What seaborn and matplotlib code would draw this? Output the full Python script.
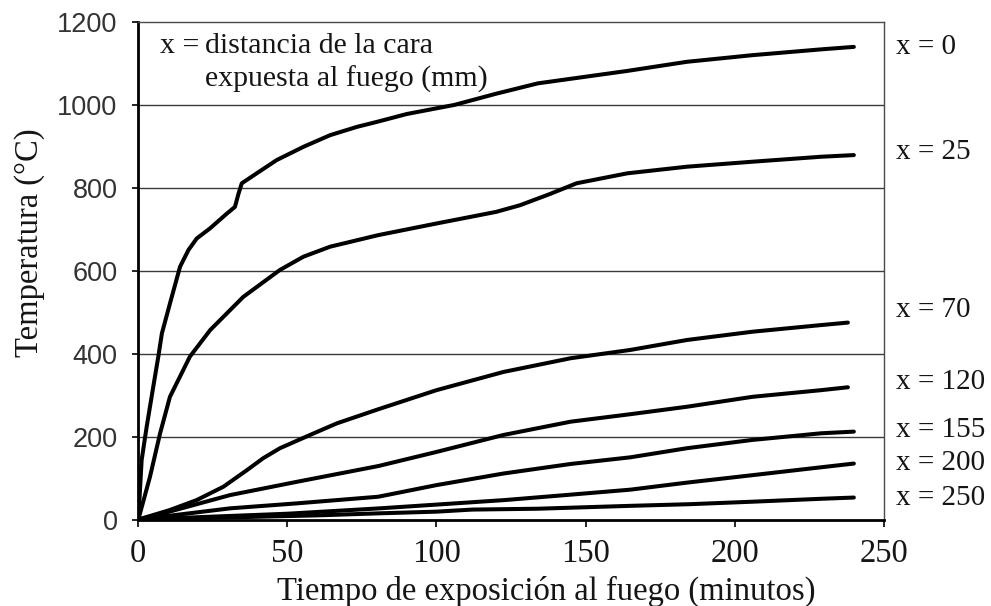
import matplotlib
matplotlib.use("Agg")
import matplotlib.pyplot as plt
import seaborn as sns
import pandas as pd

# Temperature profiles at several depths from the exposed face
depths = ["0", "25", "70", "120", "155", "200", "250"]

t_x0 = [0, 1.1, 2.8, 5.0, 6.7, 7.9, 10.6, 14, 16.8, 19.6, 24, 29.7, 32.4, 33.6, 34.7,
        39.7, 46.4, 55.4, 64.3, 73.3, 80.5, 90, 106, 120, 134, 150, 164, 184, 206, 229, 240]
T_x0 = [0, 143, 224, 320, 393, 449, 521, 610, 650, 678, 702, 738, 754, 786, 811,
        835, 867, 899, 927, 947, 960, 978, 1000, 1027, 1052, 1068, 1082, 1104, 1120, 1134, 1140]

t_x25 = [0, 3.9, 7.3, 10.6, 17.3, 24.1, 35.2, 47.5, 55.4, 64.3, 80.5, 100, 120, 128,
         138, 147, 164, 184, 206, 229, 240]
T_x25 = [0, 103, 208, 296, 393, 457, 537, 602, 634, 658, 686, 714, 742, 758,
         785, 811, 835, 851, 863, 875, 879]

t_x70 = [0, 10.6, 19.6, 28.5, 36.4, 41.9, 47.5, 57.6, 66.6, 80.5, 100, 122.5, 145,
         165, 184, 206, 229, 238]
T_x70 = [0, 23, 47, 79, 119, 148, 172, 204, 232, 266, 312, 356, 389,
         409, 433, 453, 469, 475]

t_x120 = [0, 8.4, 30.8, 53.2, 80.5, 100, 122.5, 145, 165, 184, 206, 229, 238]
T_x120 = [0, 15, 59, 91, 129, 163, 204, 236, 254, 272, 296, 312, 319]

t_x155 = [0, 30.8, 53.2, 80.5, 100, 122.5, 145, 165, 184, 206, 229, 240]
T_x155 = [0, 27, 39, 55, 83, 111, 134, 150, 172, 192, 208, 212]

t_x200 = [0, 50, 81, 100, 123, 145, 165, 184, 206, 229, 240]
T_x200 = [0, 14, 27, 36, 47, 60, 72, 89, 107, 126, 135]

t_x250 = [0, 60, 81, 100, 112, 133.7, 165, 185, 206, 229, 240]
T_x250 = [0, 10, 15, 19, 24, 26, 33, 37, 43, 50, 53]

times = [t_x0, t_x25, t_x70, t_x120, t_x155, t_x200, t_x250]
temps = [T_x0, T_x25, T_x70, T_x120, T_x155, T_x200, T_x250]

x_ticks = [0, 50, 100, 150, 200, 250]
y_ticks = [0, 200, 400, 600, 800, 1000, 1200]

# Vertical placement of the right-hand curve labels (°C)
label_y = [1139, 886, 505, 332, 216, 136, 52]

sns.set_theme(style="white")
serif = ["Liberation Serif", "DejaVu Serif"]
sans = ["Liberation Sans", "DejaVu Sans"]
plt.rcParams["font.family"] = serif
ink = "#151515"

frames = []
for d, t, T in zip(depths, times, temps):
    frames.append(pd.DataFrame({"t": t, "T": T, "depth": d}))
df = pd.concat(frames, ignore_index=True)

fig = plt.figure(figsize=(9.91, 6.06), dpi=100)
ax = fig.add_axes([0.1396, 0.1427, 0.8917 - 0.1396, 0.9637 - 0.1427])

for d in depths:
    sub = df[df["depth"] == d]
    sns.lineplot(data=sub, x="t", y="T", ax=ax, color="black", linewidth=2.9,
                 sort=False, estimator=None, legend=False,
                 solid_capstyle="round", solid_joinstyle="round")

ax.set_xlim(0, 250)
ax.set_ylim(0, 1200)
ax.set_xticks(x_ticks)
ax.set_yticks(y_ticks)
ax.set_xticklabels([str(v) for v in x_ticks], fontsize=23.5, color=ink, family=serif)
ax.set_yticklabels([str(v) for v in y_ticks], fontsize=19.5, color="#333333", family=sans)

for y in y_ticks[1:-1]:
    ax.axhline(y, color="#3a3a3a", linewidth=1.0, zorder=0)

for side in ["top", "right"]:
    ax.spines[side].set_color("#4a4a4a")
    ax.spines[side].set_linewidth(1.0)
for side in ["left", "bottom"]:
    ax.spines[side].set_color("black")
    ax.spines[side].set_linewidth(2.0)

ax.tick_params(axis="x", direction="out", length=5, width=1.2, color="black", pad=9,
               bottom=True)
ax.tick_params(axis="y", direction="out", length=4, width=1.2, color="black", pad=11,
               left=True)

ax.set_xlabel("Tiempo de exposición al fuego (minutos)", fontsize=23.5, color=ink)
ax.set_ylabel("Temperatura (°C)", fontsize=23.5, color=ink)
ax.xaxis.set_label_coords(0.547, -0.112)
ax.yaxis.set_label_coords(-0.125, 0.556)

# Key text inside the plot
ax.text(7.3, 1125, "x =", fontsize=21.5, color=ink, va="baseline", ha="left")
ax.text(22.4, 1125, "distancia de la cara", fontsize=21.5, color=ink,
        va="baseline", ha="left")
ax.text(22.4, 1043, "expuesta al fuego (mm)", fontsize=21.5, color=ink,
        va="baseline", ha="left")

for d, y in zip(depths, label_y):
    ax.text(254, y, f"x = {d}", fontsize=21, color=ink, va="center", ha="left",
            clip_on=False)

fig.savefig("out.png", dpi=100, facecolor="white")
